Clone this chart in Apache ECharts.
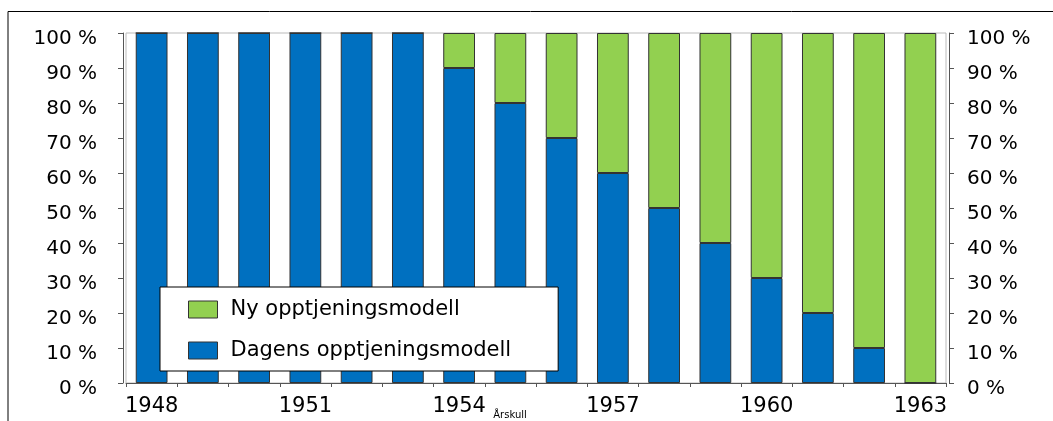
<!DOCTYPE html>
<html>
<head>
<meta charset="utf-8">
<script src="https://cdn.jsdelivr.net/npm/echarts@6/dist/echarts.min.js"></script>
<style>
  html, body { margin: 0; padding: 0; background: #fff; }
  #chart { width: 1053px; height: 421px; }
</style>
</head>
<body>
<div id="chart"></div>
<script>
const years = ['1948', '1949', '1950', '1951', '1952', '1953', '1954', '1955',
  '1956', '1957', '1958', '1959', '1960', '1961', '1962', '1963'];
const dagens = [100, 100, 100, 100, 100, 100, 90, 80, 70, 60, 50, 40, 30, 20, 10, 0];
const ny = [0, 0, 0, 0, 0, 0, 10, 20, 30, 40, 50, 60, 70, 80, 90, 100];

const font = 'DejaVu Sans';
const chart = echarts.init(document.getElementById('chart'));

const yAxisCommon = {
  type: 'value',
  min: 0,
  max: 100,
  interval: 10,
  offset: 3,
  axisLine: { show: true, lineStyle: { color: '#555', width: 1 } },
  axisTick: { show: true, length: 5, lineStyle: { color: '#555' } },
  splitLine: { show: false },
  axisLabel: {
    formatter: (v) => v + ' %',
    color: '#000',
    fontFamily: font,
    fontSize: 20,
    margin: 26,
    verticalAlign: 'top',
    lineHeight: 12
  }
};

chart.setOption({
  animation: false,
  grid: {
    left: 126,
    right: 107,
    top: 33,
    bottom: 38,
    outerBoundsMode: 'none',
    containLabel: false,
    show: true,
    borderColor: '#bbb',
    borderWidth: 1,
    backgroundColor: 'transparent'
  },
  graphic: [{
    type: 'polyline',
    shape: { points: [[8, 421], [8, 11.5], [1053, 11.5]] },
    style: { stroke: '#000', lineWidth: 1, fill: null }
  }],
  legend: {
    orient: 'vertical',
    left: 160,
    top: 287,
    padding: [12, 47, 10, 28],
    itemGap: 20,
    itemWidth: 29,
    itemHeight: 17,
    icon: 'rect',
    backgroundColor: '#fff',
    borderColor: '#000',
    borderWidth: 1,
    borderRadius: 0,
    textStyle: { fontFamily: font, fontSize: 21, color: '#000', padding: [0, 0, 0, 8] },
    data: [
      { name: 'Ny opptjeningsmodell', itemStyle: { borderColor: '#333', borderWidth: 1 } },
      { name: 'Dagens opptjeningsmodell', itemStyle: { borderColor: '#333', borderWidth: 1 } }
    ]
  },
  xAxis: {
    type: 'category',
    data: years,
    name: 'Årskull',
    nameLocation: 'middle',
    nameGap: 27,
    nameMoveOverlap: false,
    nameTextStyle: { fontFamily: font, fontSize: 10, color: '#000', padding: [0, 52, 0, 0] },
    axisLine: { lineStyle: { color: '#555', width: 1 } },
    axisTick: { show: true, interval: 0, length: 4, lineStyle: { color: '#555' } },
    axisLabel: {
      interval: 2,
      color: '#000',
      fontFamily: font,
      fontSize: 21,
      margin: 13
    }
  },
  yAxis: [
    Object.assign({}, yAxisCommon, { position: 'left', axisLabel: Object.assign({}, yAxisCommon.axisLabel) }),
    Object.assign({}, yAxisCommon, { position: 'right', axisLabel: Object.assign({}, yAxisCommon.axisLabel, { margin: 18 }) })
  ],
  series: [
    {
      name: 'Dagens opptjeningsmodell',
      type: 'bar',
      stack: 'total',
      barWidth: '62%',
      data: dagens,
      itemStyle: { color: '#0070C0', borderColor: '#333', borderWidth: 1 }
    },
    {
      name: 'Ny opptjeningsmodell',
      type: 'bar',
      stack: 'total',
      barWidth: '62%',
      data: ny,
      itemStyle: { color: '#92D050', borderColor: '#333', borderWidth: 1 }
    }
  ]
});
</script>
</body>
</html>
